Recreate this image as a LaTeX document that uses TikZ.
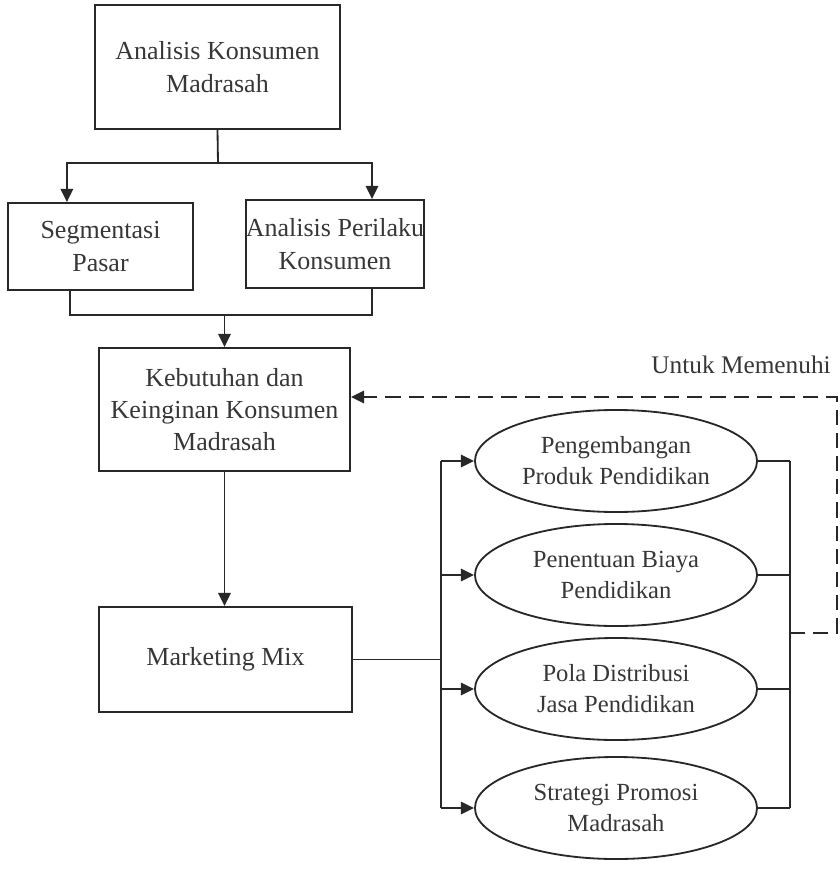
\documentclass[tikz,border=0pt]{standalone}
\usepackage{fontspec}
\setmainfont{Liberation Serif}
\usetikzlibrary{shapes.geometric, arrows.meta, positioning, calc}
\definecolor{mydark}{RGB}{40,40,40}
\definecolor{mytext}{RGB}{55,55,55}
\tikzset{
  block/.style={rectangle, draw=mydark, text=mytext, align=center,
    font=\fontsize{18.5}{23}\selectfont, inner sep=0pt, line width=1.3pt},
  ovalnode/.style={ellipse, draw=mydark, text=mytext, align=center,
    minimum width=7.05cm, minimum height=2.55cm, inner sep=0pt,
    font=\fontsize{17.5}{22}\selectfont, line width=1.3pt},
  lbl/.style={text=mytext, font=\fontsize{18}{22}\selectfont, inner sep=0pt},
  arrow/.style={-{Triangle[length=3.3mm, width=3.1mm]}, line width=1.3pt, color=mydark},
  line/.style={line width=1.3pt, color=mydark},
  dasharrow/.style={arrow, dash pattern=on 3.8mm off 2mm}
}
\begin{document}
\begin{tikzpicture}[x=0.025cm, y=-0.025cm]
  \useasboundingbox (0,0) rectangle (840,894);
  % boxes on the left
  \node[block, minimum width=6.125cm, minimum height=3.1cm] (konsumen) at (217.5,67) {Analisis Konsumen\\Madrasah};
  \node[block, minimum width=4.625cm, minimum height=2.175cm] (segmen) at (100.5,246.5) {Segmentasi\\Pasar};
  \node[block, minimum width=4.4cm, minimum height=2.2cm] (perilaku) at (335,244) {Analisis Perilaku\\Konsumen};
  \node[block, minimum width=6.275cm, minimum height=3.075cm] (kebutuhan) at (224.5,409.5) {Kebutuhan dan\\Keinginan Konsumen\\Madrasah};
  \node[block, minimum width=6.325cm, minimum height=2.625cm] (mix) at (225.5,659.5) {Marketing Mix};
  % the four parts of the mix
  \node[ovalnode] (produk) at (616,461) {Pengembangan\\Produk Pendidikan};
  \node[ovalnode] (biaya) at (616,575) {Penentuan Biaya\\Pendidikan};
  \node[ovalnode] (distribusi) at (616,689) {Pola Distribusi\\Jasa Pendidikan};
  \node[ovalnode] (promosi) at (616,808) {Strategi Promosi\\Madrasah};
  \coordinate (split) at (218,163);
  \coordinate (join) at (224.5,315);
  \coordinate (busL) at (441,659.5);
  \coordinate (busR) at (790,633);
  \coordinate (ret) at (837,397);
  \node[lbl, anchor=east] (untuk) at (831,365) {Untuk Memenuhi};
  % connectors
  \draw[line] (konsumen.south) -- (split);
  \draw[arrow] (split) -| ([xshift=-0.84cm]segmen.north);
  \draw[arrow] (split) -| ([xshift=0.925cm]perilaku.north);
  \draw[line] ([xshift=-0.76cm]segmen.south) |- (join) -| ([xshift=0.925cm]perilaku.south);
  \draw[arrow] (join) -- (kebutuhan.north);
  \draw[arrow] (kebutuhan.south) -- (kebutuhan.south |- mix.north);
  \draw[line] (mix.east) -- (busL);
  \draw[line] (busL |- produk.west) -- (busL |- promosi.west);
  \draw[line] (busR |- produk.east) -- (busR |- promosi.east);
  \foreach \n in {produk, biaya, distribusi, promosi} {
    \draw[arrow] (busL |- \n.west) -- (\n.west);
    \draw[line] (\n.east) -- (busR |- \n.east);
  }
  \draw[dasharrow] (busR) -| (ret) -- (ret -| kebutuhan.east);
\end{tikzpicture}
\end{document}
